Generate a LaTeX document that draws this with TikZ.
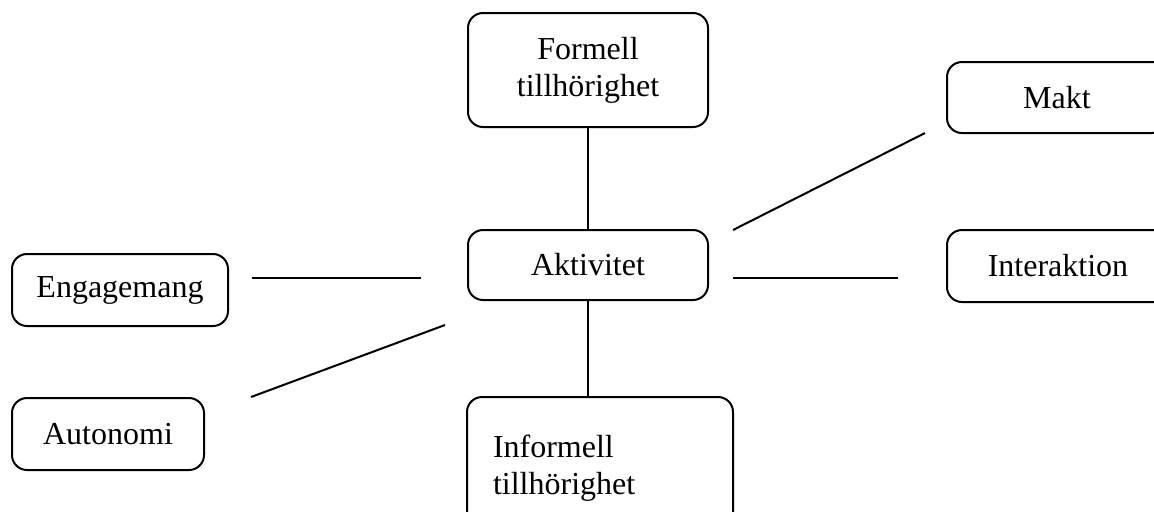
\documentclass[tikz,border=0pt]{standalone}
\usepackage{fontspec}
\setmainfont{Liberation Serif}
\begin{document}
\begin{tikzpicture}[x=0.5pt,y=-0.5pt,
  box/.style={draw, line width=1pt, rounded corners=7.5pt, inner sep=0pt,
    font=\fontsize{16}{18.5}\selectfont, align=center},
  link/.style={line width=1pt}]
\useasboundingbox (0,0) rectangle (1154,511);
\begin{scope}
\clip (0,0) rectangle (1154,511);
\node[box, minimum width=120pt, minimum height=57pt] (formell) at (588,70) {Formell\\tillhörighet};
\node[box, minimum width=120pt, minimum height=35pt] (akt) at (588,265) {Aktivitet};
\node[box, minimum width=110pt, minimum height=35.5pt] (makt) at (1057,97.5) {Makt};
\node[box, minimum width=111pt, minimum height=36pt] (inter) at (1058,266) {Interaktion};
\node[box, minimum width=108pt, minimum height=36pt] (eng) at (120,290) {Engagemang};
\node[box, minimum width=96pt, minimum height=36pt] (auto) at (108,434) {Autonomi};
\node[box, minimum width=133pt, minimum height=71pt, text width=107pt, align=left] (inf) at (600,468) {Informell\\tillhörighet};
\coordinate (m1) at (733,230);
\coordinate (m2) at (925,133);
\coordinate (i1) at (733,278);
\coordinate (i2) at (898,278);
\coordinate (e1) at (252,278);
\coordinate (e2) at (421,278);
\coordinate (a1) at (251,397);
\coordinate (a2) at (445,325);
\draw[link] (formell) -- (akt);
\draw[link] (akt.south) -- (akt.south |- inf.north);
\draw[link] (m1) -- (m2);
\draw[link] (i1) -- (i2);
\draw[link] (e1) -- (e2);
\draw[link] (a1) -- (a2);
\end{scope}
\end{tikzpicture}
\end{document}
